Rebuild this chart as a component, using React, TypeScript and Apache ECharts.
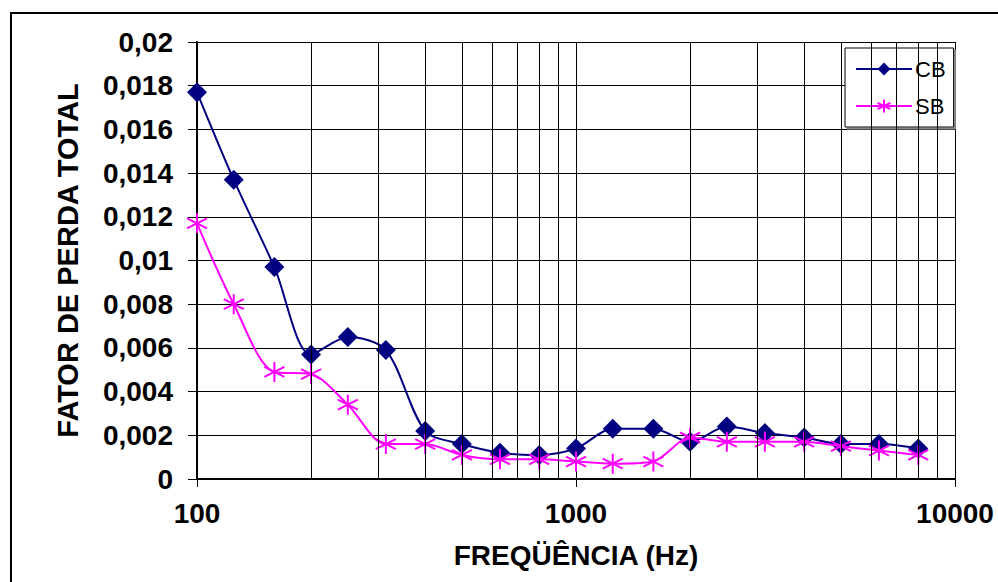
import React, { useEffect, useRef } from "react";
import * as echarts from "echarts";

const frequencies = [100, 125, 160, 200, 250, 315, 400, 500, 630, 800, 1000, 1250, 1600, 2000, 2500, 3150, 4000, 5000, 6300, 8000];
const cbValues = [0.0177, 0.0137, 0.0097, 0.0057, 0.0065, 0.0059, 0.0022, 0.0016, 0.0012, 0.0011, 0.0014, 0.0023, 0.0023, 0.0017, 0.0024, 0.0021, 0.0019, 0.0016, 0.0016, 0.0014];
const sbValues = [0.0117, 0.008, 0.0049, 0.0048, 0.0034, 0.0016, 0.0016, 0.0011, 0.0009, 0.0009, 0.0008, 0.0007, 0.0008, 0.0019, 0.0017, 0.0017, 0.0017, 0.0015, 0.0013, 0.0011];
const minorGridFreqs = [200, 300, 400, 500, 600, 700, 800, 900, 2000, 3000, 4000, 5000, 6000, 7000, 8000, 9000];

const FONT = "'Liberation Sans', Arial, sans-serif";
const ASTERISK = "path://M0,-10L0,10M-8.66,-5L8.66,5M-8.66,5L8.66,-5";

export default function App() {
  const ref = useRef<HTMLDivElement>(null);
  useEffect(() => {
    if (!ref.current) return;
    const chart = echarts.init(ref.current, null, { renderer: "svg" });
    chart.setOption({
      animation: false,
      backgroundColor: "#fff",
      grid: { left: 197, right: 43, top: 42, bottom: 103 },
      graphic: [
        {
          type: "rect",
          shape: { x: 11, y: 13, width: 1000, height: 600 },
          style: { fill: "none", stroke: "#000", lineWidth: 2 },
          silent: true,
        },
      ],
      legend: {
        data: ["CB", "SB"],
        orient: "vertical",
        left: 845,
        top: 48,
        padding: [10, 8, 10, 10],
        itemGap: 15,
        itemWidth: 56,
        itemHeight: 16,
        backgroundColor: "#fff",
        borderColor: "#000",
        borderWidth: 1,
        shadowColor: "#888",
        shadowOffsetX: 2,
        shadowOffsetY: 2,
        shadowBlur: 0,
        textStyle: { fontFamily: FONT, fontSize: 22, color: "#000", padding: [0, 0, 0, -2] },
      },
      xAxis: {
        type: "log",
        logBase: 10,
        min: 100,
        max: 10000,
        name: "FREQÜÊNCIA (Hz)",
        nameLocation: "middle",
        nameGap: 62,
        nameTextStyle: { fontFamily: FONT, fontSize: 28, fontWeight: "bold", color: "#000" },
        axisLine: { show: true, onZero: false, lineStyle: { color: "#000", width: 2 } },
        axisTick: { show: true, inside: false, length: 8, lineStyle: { color: "#000", width: 1 } },
        axisLabel: {
          margin: 20,
          fontFamily: FONT,
          fontSize: 28,
          fontWeight: "bold",
          color: "#000",
          formatter: (v: number) => String(Math.round(v)),
        },
        splitLine: { show: true, lineStyle: { color: "#000", width: 1 } },
        minorTick: { show: false },
      },
      yAxis: {
        type: "value",
        min: 0,
        max: 0.02,
        interval: 0.002,
        name: "FATOR DE PERDA TOTAL",
        nameLocation: "middle",
        nameGap: 115,
        nameTextStyle: { fontFamily: FONT, fontSize: 29, fontWeight: "bold", color: "#000" },
        axisLine: { show: true, lineStyle: { color: "#000", width: 2 } },
        axisTick: { show: true, inside: false, length: 9, lineStyle: { color: "#000", width: 1 } },
        axisLabel: {
          margin: 24,
          fontFamily: FONT,
          fontSize: 28,
          fontWeight: "bold",
          color: "#000",
          formatter: (v: number) => String(parseFloat(v.toFixed(4))).replace(".", ","),
        },
        splitLine: { show: true, lineStyle: { color: "#000", width: 1 } },
      },
      series: [
        {
          name: "grid",
          type: "line",
          data: [],
          z: 1,
          silent: true,
          markLine: {
            silent: true,
            symbol: "none",
            label: { show: false },
            lineStyle: { color: "#000", width: 1, type: "solid" },
            data: minorGridFreqs.map((f) => ({ xAxis: f })),
          },
        },
        {
          name: "CB",
          type: "line",
          z: 3,
          data: frequencies.map((f, i) => [f, cbValues[i]]),
          smooth: 0.3,
          symbol: "diamond",
          symbolSize: 20,
          lineStyle: { color: "#000080", width: 2 },
          itemStyle: { color: "#000080" },
        },
        {
          name: "SB",
          type: "line",
          z: 4,
          data: frequencies.map((f, i) => [f, sbValues[i]]),
          smooth: 0.3,
          symbol: ASTERISK,
          symbolSize: 20,
          lineStyle: { color: "#FF00FF", width: 2 },
          itemStyle: { color: "none", borderColor: "#FF00FF", borderWidth: 2 },
        },
      ],
    });
    return () => chart.dispose();
  }, []);
  return (
    <div
      ref={ref}
      style={{ position: "fixed", left: 0, top: 0, width: 998, height: 582 }}
    />
  );
}
